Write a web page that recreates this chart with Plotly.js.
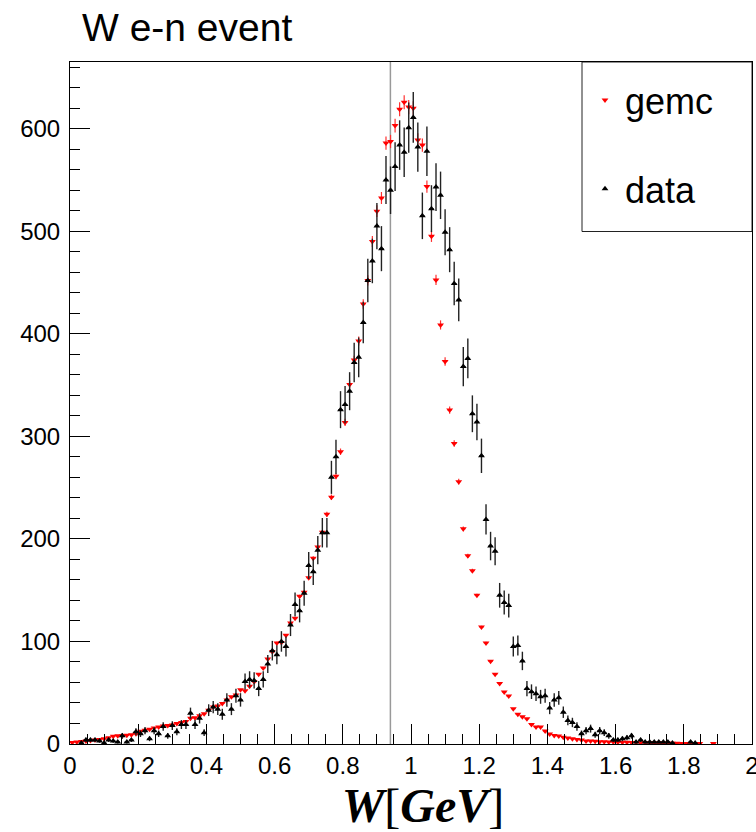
<!DOCTYPE html>
<html>
<head>
<meta charset="utf-8">
<script src="https://cdn.plot.ly/plotly-3.0.1.min.js"></script>
<style>html,body{margin:0;padding:0;background:#fff;}</style>
</head>
<body>
<div id="chart" style="width:756px;height:832px;"></div>
<script>
// Histogram binning (150 bins from 0 to 2 GeV)
const xMin = 0, xMax = 2, nBins = 150;
const binWidth = (xMax - xMin) / nBins;
const neutronMass = 0.9396;

// gemc (simulation) bin contents
const gemc = [
 1.5, 2, 2.5, 3, 3.5, 4, 4.5, 5, 6, 7.5,
 8, 8, 8.5, 9, 10, 12.5, 13.5, 14.5, 15.5, 16.5,
 17.5, 18, 18.5, 20, 21, 22, 25, 25.5, 27.5, 29.5,
 33, 36, 37, 39.6, 43, 46, 47.7, 53, 52, 56.4,
 60.6, 68, 74, 83, 90, 98.6, 99, 106, 118, 122.5,
 144, 148, 162, 181, 192, 206.5, 224, 240.6, 261, 285,
 313.6, 350.5, 374.5, 393, 429, 452, 490, 519.5, 532.4, 586,
 587.5, 603, 619, 625.8, 621, 620, 589, 584, 543.5, 495,
 452.5, 408.6, 373, 325.6, 293, 255.8, 209.8, 183.5, 169, 145,
 114, 98.6, 80.7, 68, 59, 50.6, 46.7, 34.4, 28.9, 26.6,
 24.6, 19.1, 16.5, 16.5, 12.6, 9.7, 8.4, 7.8, 6.5, 5.8,
 5.2, 4.5, 3.9, 2.9, 2.9, 2.6, 2.3, 2.2, 2, 2,
 1.8, 1.7, 1.6, 1.5, 1.4, 1.3, 1.2, 1.1, 1, 1,
 0.9, 0.8, 0.8, 0.7, 0.6, 0.6, 0.5, 0.5, 0.4, null,
 null, 0.5, null, null, null, null, null, null, null, null
];

// measured data bin contents
const data = [
 null, null, 1, 4, 4, 4, 3, 1, 4, 3,
 2, 8, 2, 4, 12, 10, 13, 5, 13, 10,
 17, 8, 18, 12, 19, 19, 30, 19, 25, 11,
 33, 36, 34, 29, 43, 34, 47, 43, 61, 63,
 62, 54, 63, 78, 91, 87, 100, 95, 116, 136,
 130, 147, 174, 168, 189, 206, 206, 260, 280, 326,
 331, 344, 372, 377, 411, 452, 471, 505, 483, 550,
 540, 563, 584, 577, 601, 611, 582, 515, 578, 522,
 543, 535, 499, 482, 449, 433, 368, 376, 322, 314,
 281, 219, 193, 188, 145, 138, 135, 95, 96, 81,
 54, 51, 49, 46, 47, 35, 43, 45, 31, 23,
 21, 17, 10, 13, 15, 9, 13, 11, 8, 4,
 4, 5, 6, 8, 2, 4, 2, 2, 2, 2,
 2, 2, 1, null, null, null, 2, 1, null, null,
 null, null, null, null, null, null, null, null, null, null
];

const binCenters = [];
for (let i = 0; i < nBins; i++) binCenters.push(xMin + (i + 0.5) * binWidth);

const font = 'Liberation Sans, Arial, Helvetica, sans-serif';

const traces = [
  {
    name: 'gemc', legendgroup: 'g1',
    x: binCenters, y: gemc, type: 'scatter', mode: 'markers',
    marker: {symbol: 'triangle-down', size: 6, color: '#ff0000'},
    error_y: {type: 'percent', value: 1.1, color: '#ff3030', thickness: 1.2, width: 0},
    error_x: {type: 'constant', value: binWidth / 2, color: '#ff3030', thickness: 1, width: 0},
    hoverinfo: 'skip'
  },
  {
    name: 'data', legendgroup: 'g2',
    x: binCenters, y: data, type: 'scatter', mode: 'markers',
    marker: {symbol: 'triangle-up', size: 6, color: '#000000'},
    error_y: {type: 'sqrt', color: '#222222', thickness: 1.4, width: 0},
    error_x: {type: 'constant', value: binWidth / 2, color: '#000000', thickness: 1, width: 0},
    hoverinfo: 'skip'
  }
];

const axisCommon = {
  ticks: 'inside', ticklen: 20, tickwidth: 1, tickcolor: '#000',
  showline: true, linecolor: '#000', linewidth: 1, mirror: true,
  showgrid: false, zeroline: false,
  tickfont: {family: font, size: 24, color: '#000'}
};

const layout = {
  width: 756, height: 832,
  margin: {l: 70, r: 4, t: 62, b: 88},
  paper_bgcolor: '#fff', plot_bgcolor: '#fff',
  title: {
    text: 'W e-n event',
    font: {family: font, size: 39, color: '#000'},
    x: 82 / 756, xanchor: 'left', xref: 'container',
    y: 1 - 27 / 832, yanchor: 'middle', yref: 'container'
  },
  xaxis: Object.assign({}, axisCommon, {
    range: [xMin, xMax], tick0: 0, dtick: 0.2,
    ticklabeloverflow: 'allow',
    minor: {dtick: 0.05, ticklen: 10, ticks: 'inside', tickcolor: '#000', tickwidth: 1},
    title: {
      text: '&nbsp;&nbsp;<b><i>W</i></b>[<b><i>GeV</i></b>]',
      font: {family: 'Liberation Serif, DejaVu Serif, serif', size: 48, color: '#000'},
      standoff: 8
    }
  }),
  yaxis: Object.assign({}, axisCommon, {
    range: [0, 665], tick0: 0, dtick: 100,
    minor: {dtick: 20, ticklen: 10, ticks: 'inside', tickcolor: '#000', tickwidth: 1},
    ticklabelstandoff: 4
  }),
  showlegend: true,
  legend: {
    x: (585 - 70) / 682, xanchor: 'left', y: 1 - 8 / 682, yanchor: 'top',
    bgcolor: 'rgba(0,0,0,0)', borderwidth: 0,
    font: {family: font, size: 36, color: '#000'},
    traceorder: 'grouped', tracegroupgap: 39
  },
  shapes: [
    {type: 'rect', xref: 'paper', yref: 'paper', x0: (582 - 70) / 682, x1: 1,
     y0: (744 - 231.5) / 682, y1: 1, line: {color: '#222', width: 1}, fillcolor: '#fff', layer: 'below'},
    {type: 'line', xref: 'x', yref: 'paper', x0: neutronMass, x1: neutronMass, y0: 0, y1: 1,
     line: {color: '#999', width: 1.5}, layer: 'below'}
  ]
};

Plotly.newPlot('chart', traces, layout, {staticPlot: true, displayModeBar: false});
</script>
</body>
</html>
